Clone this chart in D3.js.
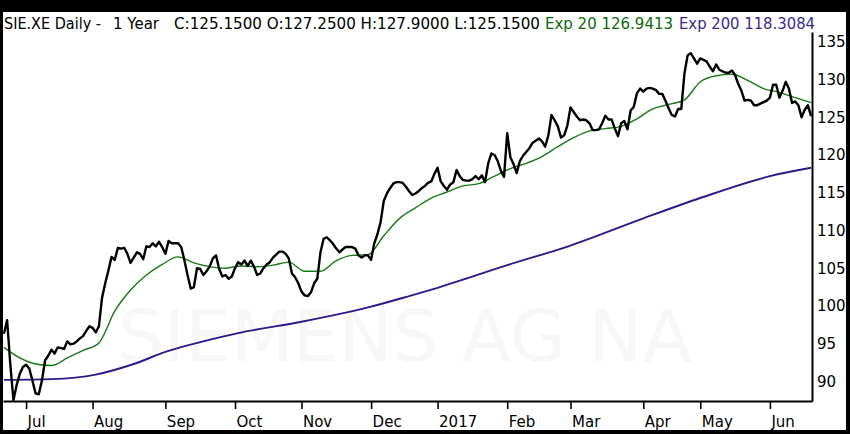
<!DOCTYPE html>
<html>
<head>
<meta charset="utf-8">
<script src="https://cdn.jsdelivr.net/npm/d3@7"></script>
<style>
  html, body { margin: 0; padding: 0; background: #000; }
  svg { display: block; }
  text { font-family: "DejaVu Sans", Verdana, sans-serif; }
</style>
</head>
<body>
<svg id="chart" width="850" height="434"></svg>
<script>
// daily closes, 22 Jun 2016 .. mid Jun 2017 (trading days)
const closes = [
  96.3, 98.1, 92.3, 87.5, 89.5, 91.0, 91.9, 92.2, 91.7, 90.1,
  88.4, 88.3, 90.1, 92.8, 93.4, 94.2, 93.7, 94.5, 94.4, 94.3,
  95.3, 94.9, 95.0, 95.3, 95.7, 96.0, 96.7, 97.3, 97.1, 96.5,
  97.3, 101.1, 103.0, 104.7, 106.5, 106.1, 107.7, 107.6, 107.7, 106.9,
  105.7, 106.4, 107.1, 106.9, 106.2, 107.9, 107.8, 108.3, 107.9, 108.5,
  107.8, 106.9, 108.6, 108.3, 108.3, 108.3, 107.8, 106.1, 104.1, 102.3,
  102.5, 105.0, 104.9, 104.1, 104.6, 105.2, 106.3, 106.7, 104.9, 103.9,
  104.1, 103.6, 103.9, 105.0, 105.8, 105.5, 106.0, 105.3, 106.0, 105.2,
  104.1, 104.3, 105.0, 105.5, 105.8, 106.4, 106.8, 107.2, 107.2, 106.9,
  106.3, 104.3, 103.8, 103.0, 101.9, 101.4, 101.3, 101.8, 103.0, 103.6,
  107.1, 108.9, 109.1, 108.7, 108.2, 107.6, 107.1, 107.5, 107.8, 107.8,
  107.8, 107.6, 106.7, 106.4, 106.7, 106.7, 106.1, 108.3, 109.5, 111.1,
  113.9, 114.9, 115.6, 116.2, 116.4, 116.4, 116.3, 115.8, 115.2, 114.7,
  114.9, 115.2, 115.6, 115.9, 116.3, 116.5, 117.5, 118.3, 116.5, 115.9,
  115.4, 116.1, 116.4, 118.0, 117.2, 116.7, 116.6, 116.6, 116.8, 117.2,
  116.8, 117.3, 116.4, 118.9, 120.2, 120.0, 119.2, 117.9, 117.1, 122.9,
  119.7, 118.8, 117.6, 119.2, 119.9, 120.4, 120.9, 121.6, 121.9, 122.2,
  121.8, 121.1, 122.6, 125.3, 124.6, 123.8, 122.3, 122.6, 123.9, 126.3,
  125.7, 125.1, 124.6, 124.7, 124.6, 124.2, 123.3, 123.3, 123.4, 124.2,
  125.2, 124.7, 124.7, 123.5, 122.5, 124.2, 124.5, 123.4, 125.9, 126.4,
  128.2, 128.8, 128.4, 128.8, 128.9, 128.8, 128.6, 128.1, 128.1, 127.2,
  126.2, 125.3, 125.1, 126.1, 126.1, 130.8, 133.2, 133.5, 132.8, 132.1,
  132.8, 132.6, 132.4, 131.7, 131.1, 132.0, 131.3, 131.1, 130.9, 130.9,
  131.2, 130.6, 129.4, 128.5, 127.2, 127.3, 127.2, 126.6, 126.6, 126.8,
  127.0, 127.2, 127.6, 129.3, 129.3, 127.6, 128.5, 129.7, 128.8, 126.9,
  127.1, 126.6, 125.0, 126.0, 126.6, 125.15
];

// Exp 20, read every 5th trading day (last one = final day)
const ema20 = [
  94.5, 93.1, 92.3, 92.1, 93.1, 94.1, 95.1, 99.3, 102.1, 104.1,
  105.5, 106.5, 105.7, 105.2, 105.0, 105.3, 105.2, 105.4, 105.8, 104.6,
  104.6, 106.0, 106.7, 106.8, 109.3, 111.6, 113.0, 114.3, 115.1, 115.9,
  116.2, 117.2, 118.2, 118.9, 119.8, 121.1, 122.3, 123.2, 123.5, 123.8,
  124.8, 126.1, 126.7, 127.3, 129.7, 130.5, 130.7, 129.9, 128.8, 128.3,
  127.6, 126.94
];

// Exp 200, read at these trading days
const ema200Days = [0, 15, 29, 41, 51, 62, 74, 94, 116, 128, 137, 159, 179, 202, 220, 242, 255];
const ema200 = [90.2, 90.3, 90.9, 92.3, 93.9, 95.2, 96.4, 97.9, 99.9, 101.3, 102.4, 105.4, 108.0, 111.6, 114.3, 117.2, 118.31];

const monthLabels = ["Jul", "Aug", "Sep", "Oct", "Nov", "Dec", "2017", "Feb", "Mar", "Apr", "May", "Jun"];
const monthStarts = [7, 28, 51, 73, 94, 116, 137, 159, 179, 202, 220, 242];
const yTicks = [90, 95, 100, 105, 110, 115, 120, 125, 130, 135];

const headerParts = ["SIE.XE Daily -", "1 Year", "C:125.1500 O:127.2500 H:127.9000 L:125.1500", "Exp 20 126.9413", "Exp 200 118.3084"];
const watermark = "SIEMENS AG NA";

const svg = d3.select("#chart");
const plotL = 3, plotR = 812, plotT = 32, plotB = 401;

svg.append("rect").attr("width", 850).attr("height", 434).attr("fill", "#000");
svg.append("rect").attr("x", 3).attr("y", 12).attr("width", 843).attr("height", 418).attr("fill", "#fff");

const x = d3.scaleLinear().domain([-0.3, closes.length - 0.7]).range([plotL, plotR]);
const y = d3.scaleLinear().domain([87.4, 136.3]).range([plotB, plotT]);

// watermark
svg.append("text")
  .attr("x", 118).attr("y", 361)
  .attr("textLength", 574).attr("lengthAdjust", "spacingAndGlyphs")
  .attr("font-size", 72)
  .attr("fill", "#f7f7f7")
  .text(watermark);

// header
const hx = [4, 113, 174, 545, 679];
const hw = [97, 46, 366, 128, 136];
const hc = ["#000", "#000", "#000", "#0b6a0b", "#3a2a8c"];
svg.selectAll("text.hdr")
  .data(headerParts)
  .enter()
  .append("text")
  .attr("class", "hdr")
  .attr("x", (d, i) => hx[i])
  .attr("y", 29)
  .attr("font-size", 15)
  .attr("textLength", (d, i) => hw[i])
  .attr("lengthAdjust", "spacingAndGlyphs")
  .attr("fill", (d, i) => hc[i])
  .text(d => d);

// Exp 200
svg.append("path")
  .datum(ema200)
  .attr("fill", "none")
  .attr("stroke", "#2a1a8a")
  .attr("stroke-width", 1.9)
  .attr("d", d3.line().curve(d3.curveMonotoneX).x((d, i) => x(ema200Days[i])).y(d => y(d)));

// Exp 20
svg.append("path")
  .datum(ema20)
  .attr("fill", "none")
  .attr("stroke", "#167a16")
  .attr("stroke-width", 1.4)
  .attr("d", d3.line().curve(d3.curveMonotoneX).x((d, i) => x(Math.min(i * 5, closes.length - 1))).y(d => y(d)));

// close
svg.append("path")
  .datum(closes)
  .attr("fill", "none")
  .attr("stroke", "#000")
  .attr("stroke-width", 2.4)
  .attr("stroke-linejoin", "round")
  .attr("d", d3.line().x((d, i) => x(i)).y(d => y(d)));

// x axis
svg.append("g")
  .attr("transform", "translate(0," + plotB + ")")
  .call(d3.axisBottom(x).tickValues(monthStarts).tickFormat((d, i) => monthLabels[i]).tickSize(8).tickSizeOuter(0))
  .call(g => g.attr("font-family", null).attr("font-size", 15))
  .call(g => g.select(".domain").attr("stroke", "#000").attr("stroke-width", 2))
  .call(g => g.selectAll(".tick line").attr("stroke", "#000").attr("stroke-width", 1.6))
  .call(g => g.selectAll(".tick text").attr("text-anchor", "start").attr("x", 1).attr("y", 15).attr("fill", "#000"));

// y axis
svg.append("g")
  .attr("transform", "translate(" + plotR + ",0)")
  .call(d3.axisRight(y).tickValues(yTicks).tickSize(0).tickPadding(5).tickSizeOuter(0))
  .call(g => g.attr("font-family", null).attr("font-size", 15))
  .call(g => g.select(".domain").attr("stroke", "#000").attr("stroke-width", 2))
  .call(g => g.selectAll(".tick text").attr("fill", "#000"));
</script>
</body>
</html>
